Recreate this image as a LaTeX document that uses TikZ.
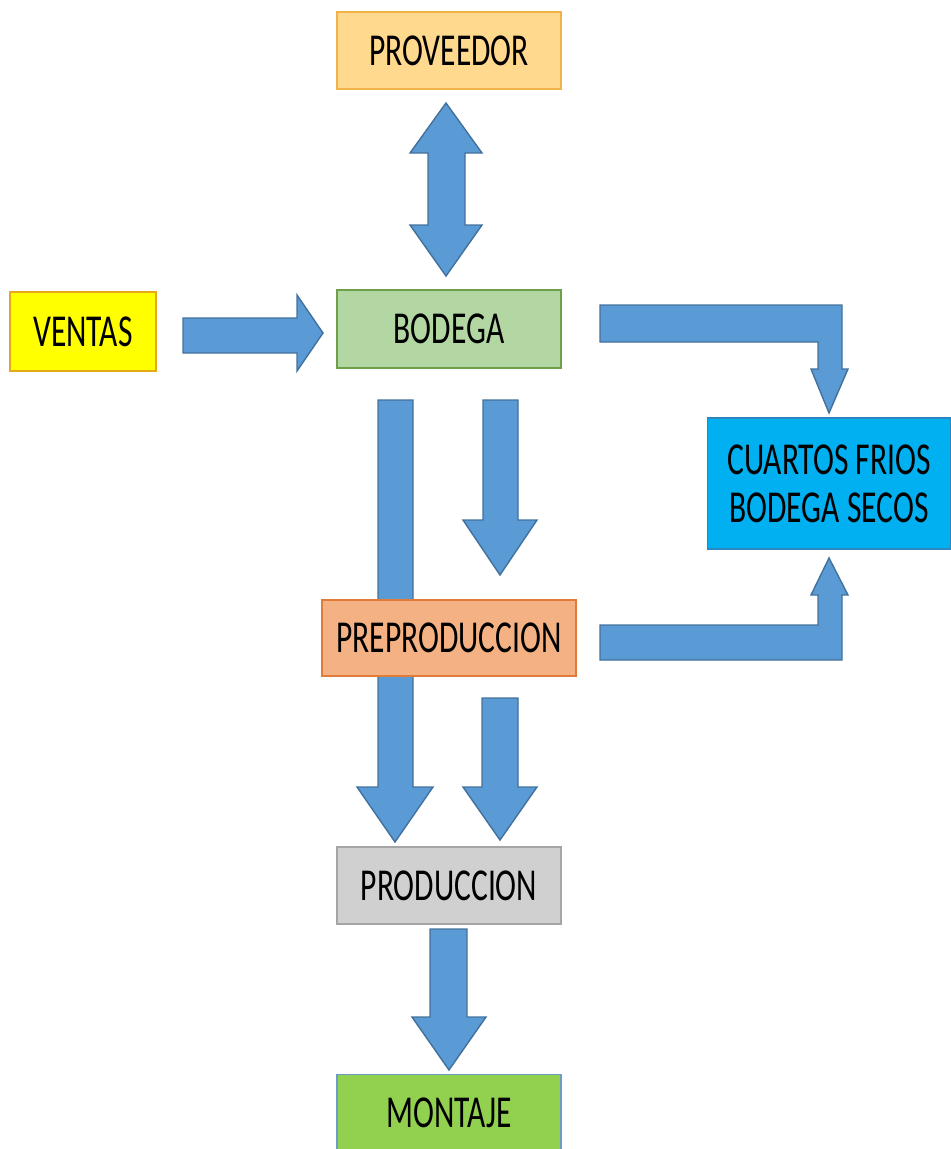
\documentclass[tikz,border=0pt]{standalone}
\usepackage{fontspec}
\setmainfont{Carlito}[FakeStretch=0.69]
\begin{document}
\begin{tikzpicture}[x=0.02cm,y=-0.02cm,
  box/.style={draw, line width=0.9pt, inner sep=0pt, align=center,
    font=\fontsize{26}{27.3}\selectfont, text=black},
  blk/.style={fill=arrowblue, draw=arrowedge, line width=0.8pt, line join=miter}]
\definecolor{arrowblue}{HTML}{5B9BD5}
\definecolor{arrowedge}{HTML}{41719C}
\definecolor{provfill}{HTML}{FFD98E}
\definecolor{provedge}{HTML}{F2B24A}
\definecolor{ventfill}{HTML}{FFFF00}
\definecolor{ventedge}{HTML}{E6A817}
\definecolor{bodfill}{HTML}{B3D7A3}
\definecolor{bodedge}{HTML}{6EA04C}
\definecolor{cuafill}{HTML}{00B0F0}
\definecolor{cuaedge}{HTML}{2E86C1}
\definecolor{prepfill}{HTML}{F4B183}
\definecolor{prepedge}{HTML}{E07B39}
\definecolor{prodfill}{HTML}{D0D0D0}
\definecolor{prodedge}{HTML}{A5A5A5}
\definecolor{montfill}{HTML}{92D050}
\definecolor{montedge}{HTML}{6C9BC8}
\useasboundingbox (0,0) rectangle (950,1149);

% block arrows
\draw[blk] (428,153) -- (410,153) -- (446,103) -- (482,153) -- (465,153) -- (465,225) -- (482,225) -- (446,276) -- (410,225) -- (428,225) -- cycle;
\draw[blk] (183,318) -- (297,318) -- (297,295) -- (323,333) -- (297,371) -- (297,353) -- (183,353) -- cycle;
\draw[blk] (600,305) -- (842,305) -- (842,369) -- (848,369) -- (829,413) -- (811,369) -- (818,369) -- (818,342) -- (600,342) -- cycle;
\draw[blk] (600,660) -- (842,660) -- (842,595) -- (848,595) -- (829,558) -- (811,595) -- (818,595) -- (818,625) -- (600,625) -- cycle;
\draw[blk] (378,400) -- (413,400) -- (413,787) -- (433,787) -- (395,842) -- (357,787) -- (378,787) -- cycle;
\draw[blk] (483,400) -- (518,400) -- (518,520) -- (537,520) -- (500,575) -- (463,520) -- (483,520) -- cycle;
\draw[blk] (482,698) -- (518,698) -- (518,787) -- (537,787) -- (500,840) -- (463,787) -- (482,787) -- cycle;
\draw[blk] (430,929) -- (467,929) -- (467,1017) -- (486,1017) -- (449,1070) -- (412,1017) -- (430,1017) -- cycle;

% boxes
\node[box, fill=provfill, draw=provedge, minimum width=4.48cm, minimum height=1.54cm] (prov) at (449,50.5) {PROVEEDOR};
\node[box, fill=ventfill, draw=ventedge, minimum width=2.92cm, minimum height=1.58cm] (vent) at (83,331.5) {VENTAS};
\node[box, fill=bodfill, draw=bodedge, minimum width=4.48cm, minimum height=1.56cm] (bod) at (449,329) {BODEGA};
\node[box, fill=cuafill, draw=cuaedge, minimum width=4.86cm, minimum height=2.62cm] (cua) at (829,483.5) {CUARTOS FRIOS\\BODEGA SECOS};
\node[box, fill=prepfill, draw=prepedge, minimum width=5.08cm, minimum height=1.52cm] (prep) at (449,638) {PREPRODUCCION};
\node[box, fill=prodfill, draw=prodedge, minimum width=4.48cm, minimum height=1.54cm] (prod) at (449,885.5) {PRODUCCION};
\node[box, fill=montfill, draw=montedge, minimum width=4.48cm, minimum height=1.54cm] (mont) at (449,1113) {MONTAJE};
\end{tikzpicture}
\end{document}
